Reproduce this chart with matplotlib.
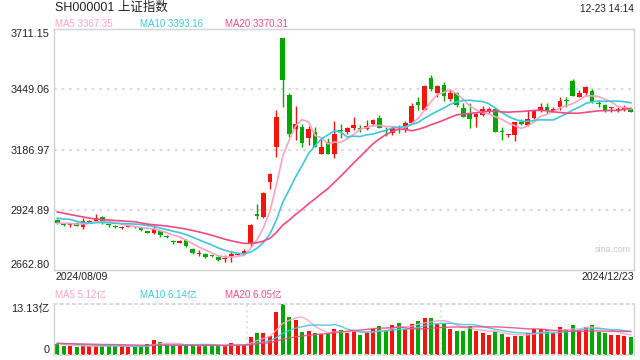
import numpy as np
import matplotlib
matplotlib.use("Agg")
import matplotlib.pyplot as plt

plt.rcParams['font.family'] = ['Liberation Sans', 'Noto Sans CJK SC', 'DejaVu Sans']

title = "SH000001 上证指数"
timestamp = "12-23 14:14"
start_label = "2024/08/09"
end_label = "2024/12/23"
price_ticks = [2662.80, 2924.89, 3186.97, 3449.06, 3711.15]
vol_max = 13.13
ma_price_labels = ["MA5 3367.35", "MA10 3393.16", "MA20 3370.31"]
ma_vol_labels = ["MA5 5.12亿", "MA10 6.14亿", "MA20 6.05亿"]

# closes before the visible window (for moving averages)
prior_closes = [2974.0, 2976.3, 2962.3, 2977.1, 2982.3, 2964.2, 2915.4, 2901.9, 2886.7, 2890.9,
                2891.9, 2879.3, 2938.8, 2932.4, 2905.3, 2860.7, 2867.3, 2869.9, 2869.8]
prior_volumes = [3.1, 2.9, 3.0, 3.3, 3.0, 2.9, 3.2, 2.8, 2.7, 2.9,
                 3.0, 2.8, 3.6, 3.1, 3.0, 3.3, 2.9, 2.8, 2.7]

opens = [2881, 2860, 2861, 2869, 2850, 2874, 2877, 2893, 2860, 2855,
         2848, 2852, 2852, 2847, 2829, 2822, 2834, 2810, 2787, 2783,
         2793, 2754, 2734, 2732, 2726, 2721, 2709, 2724, 2731, 2735,
         2776, 2903, 2895, 3047, 3197, 3672, 3424, 3277, 3286, 3238,
         3263, 3166, 3219, 3166, 3272, 3264, 3282, 3281, 3277, 3298,
         3323, 3271, 3260, 3274, 3276, 3303, 3395, 3359, 3497, 3431,
         3468, 3405, 3431, 3366, 3344, 3327, 3337, 3358, 3362, 3268,
         3253, 3250, 3305, 3293, 3323, 3359, 3370, 3358, 3370, 3401,
         3486, 3414, 3431, 3443, 3389, 3380, 3368, 3358, 3364, 3362]
highs = [2884, 2864, 2864, 2872, 2891, 2882, 2906, 2896, 2865, 2858,
         2856, 2860, 2854, 2849, 2833, 2855, 2838, 2815, 2792, 2794,
         2797, 2758, 2749, 2735, 2730, 2724, 2726, 2747, 2738, 2754,
         2863, 2950, 3000, 3086, 3359, 3674, 3434, 3376, 3296, 3290,
         3283, 3231, 3238, 3311, 3296, 3286, 3330, 3294, 3315, 3318,
         3338, 3285, 3286, 3295, 3310, 3388, 3417, 3467, 3509, 3467,
         3482, 3446, 3436, 3388, 3389, 3344, 3377, 3374, 3366, 3284,
         3256, 3308, 3318, 3360, 3360, 3388, 3388, 3374, 3416, 3416,
         3494, 3446, 3464, 3448, 3400, 3385, 3372, 3373, 3380, 3364]
lows = [2862, 2853, 2850, 2853, 2840, 2870, 2875, 2862, 2852, 2846,
        2843, 2849, 2845, 2833, 2822, 2818, 2808, 2800, 2778, 2779,
        2765, 2733, 2725, 2714, 2718, 2702, 2697, 2699, 2727, 2731,
        2762, 2885, 2890, 3016, 3154, 3371, 3240, 3228, 3196, 3205,
        3199, 3166, 3168, 3151, 3238, 3255, 3272, 3265, 3272, 3290,
        3280, 3245, 3250, 3257, 3265, 3297, 3359, 3359, 3441, 3417,
        3398, 3400, 3374, 3327, 3280, 3285, 3333, 3342, 3264, 3230,
        3240, 3224, 3294, 3290, 3320, 3348, 3345, 3348, 3359, 3374,
        3420, 3414, 3420, 3390, 3370, 3350, 3350, 3348, 3355, 3350]
closes = [2866, 2858, 2863, 2855, 2875, 2876, 2890, 2870, 2858, 2849,
          2850, 2854, 2850, 2837, 2827, 2840, 2814, 2808, 2785, 2786,
          2769, 2738, 2737, 2718, 2724, 2706, 2716, 2732, 2733, 2747,
          2858, 2901, 2996, 3080, 3327, 3489, 3254, 3298, 3217, 3276,
          3199, 3198, 3168, 3254, 3270, 3279, 3293, 3279, 3289, 3315,
          3282, 3269, 3279, 3272, 3303, 3376, 3381, 3463, 3450, 3463,
          3421, 3431, 3381, 3330, 3318, 3341, 3362, 3360, 3264, 3266,
          3255, 3308, 3300, 3318, 3356, 3373, 3356, 3360, 3399, 3399,
          3420, 3431, 3458, 3392, 3387, 3359, 3371, 3360, 3370, 3352]
volumes = [2.85, 2.33, 2.33, 2.07, 2.33, 2.33, 2.33, 2.33, 2.33, 2.33,
           2.33, 2.16, 2.16, 2.16, 2.85, 3.89, 3.37, 2.68, 2.33, 2.33,
           2.50, 2.50, 2.33, 2.50, 2.50, 2.33, 2.33, 3.02, 2.50, 2.50,
           4.75, 5.79, 5.79, 4.92, 10.97, 13.13, 9.76, 9.07, 6.05, 6.22,
           5.79, 5.36, 5.36, 6.74, 6.48, 5.79, 6.22, 5.18, 5.79, 6.65,
           7.34, 6.31, 7.77, 8.29, 6.65, 8.03, 8.81, 9.59, 9.59, 8.03,
           8.21, 6.74, 6.22, 6.22, 7.34, 6.22, 5.79, 5.18, 6.05, 5.44,
           4.75, 4.92, 4.92, 5.79, 6.65, 6.65, 6.31, 5.61, 7.08, 6.74,
           7.77, 6.48, 7.08, 7.77, 6.05, 5.79, 5.18, 5.18, 4.92, 4.75]

RED = '#f2150f'
GREEN = '#02a702'
C_MA5 = '#ffa3c2'
C_MA10 = '#3ec6df'
C_MA20 = '#ee4a84'
BORDER = '#d2d2d2'
GRID = '#dcdcdc'
TXT = '#222222'

o = np.array(opens, float); h = np.array(highs, float)
l = np.array(lows, float); c = np.array(closes, float)
v = np.array(volumes, float)
n = len(c)
x = np.arange(n)
up = c >= o
cols = [RED if u else GREEN for u in up]

def ma(prior, vals, k):
    full = np.concatenate([np.array(prior, float), vals])
    out = []
    for i in range(len(prior), len(full)):
        out.append(full[max(0, i - k + 1):i + 1].mean())
    return np.array(out)

fig = plt.figure(figsize=(6.4, 3.6), dpi=100)
fig.patch.set_facecolor('white')

L, W = 54 / 640, 580 / 640
ax = fig.add_axes([L, 1 - 270 / 360, W, 241 / 360])
axv = fig.add_axes([L, 1 - 355 / 360, W, 51 / 360])

# price panel
ymin, ymax = price_ticks[0], price_ticks[-1]
ax.set_xlim(-0.5, n - 0.5)
ax.set_ylim(ymin, ymax)
for t in price_ticks[1:-1]:
    ax.axhline(t, color=GRID, lw=1.6, ls=(0, (1.2, 2.2)), zorder=0)

ax.vlines(x, l, h, colors=cols, lw=1.0, zorder=2)
px_price = (ymax - ymin) / 241
body_h = np.maximum(np.abs(c - o), px_price * 1.1)
body_b = np.where(np.abs(c - o) < px_price * 1.1, (o + c) / 2 - px_price * 0.55, np.minimum(o, c))
ax.bar(x, body_h, bottom=body_b, width=0.72, color=cols, lw=0, zorder=3)

ma5 = ma(prior_closes, c, 5)
ma10 = ma(prior_closes, c, 10)
ma20 = ma(prior_closes, c, 20)
ax.plot(x, ma5, color=C_MA5, lw=1.2, zorder=4)
ax.plot(x, ma10, color=C_MA10, lw=1.2, zorder=4)
ax.plot(x, ma20, color=C_MA20, lw=1.2, zorder=4)

ax.set_yticks(price_ticks)
ax.set_yticklabels([f"{t:.2f}" for t in price_ticks], fontsize=7.8, color=TXT)
labs = ax.get_yticklabels()
labs[0].set_verticalalignment('bottom')
labs[-1].set_verticalalignment('top')
ax.tick_params(axis='y', length=0, pad=3)
ax.set_xticks([])
for s in ax.spines.values():
    s.set_color(BORDER); s.set_linewidth(1.0)
ax.text(0.995, 0.085, "sina.com", transform=ax.transAxes, ha='right', va='center',
        fontsize=6.5, color='#c8c8c8')

# volume panel
axv.set_xlim(-0.5, n - 0.5)
axv.set_ylim(0, vol_max)
axv.bar(x, v, width=0.62, color=cols, lw=0, zorder=2)
vm5 = ma(prior_volumes, v, 5)
vm10 = ma(prior_volumes, v, 10)
vm20 = ma(prior_volumes, v, 20)
axv.plot(x, vm5, color=C_MA5, lw=1.0, alpha=0.9, zorder=3)
axv.plot(x, vm10, color=C_MA10, lw=1.0, alpha=0.9, zorder=3)
axv.plot(x, vm20, color=C_MA20, lw=1.0, alpha=0.9, zorder=3)
for frac in (1 / 3, 2 / 3):
    axv.axvline(-0.5 + n * frac, color=GRID, lw=1.2, ls=(0, (1.2, 2.0)), zorder=1)
axv.set_yticks([0, vol_max])
axv.set_yticklabels(["0", "13.13亿"], fontsize=7.8, color=TXT)
vl = axv.get_yticklabels()
vl[0].set_verticalalignment('bottom')
vl[1].set_verticalalignment('top')
axv.tick_params(axis='y', length=0, pad=3)
axv.set_xticks([])
for k in ('left', 'right'):
    axv.spines[k].set_color(BORDER); axv.spines[k].set_linewidth(1.0)
for k in ('top', 'bottom'):
    axv.spines[k].set_color(GRID); axv.spines[k].set_linewidth(1.4)
    axv.spines[k].set_linestyle((0, (1.2, 2.0)))

# header texts
def fx(px):
    return px / 640
def fy(py):
    return 1 - py / 360

fig.text(fx(55), fy(8), title, fontsize=9, color=TXT, ha='left', va='center')
fig.text(fx(634), fy(9), timestamp, fontsize=7.2, color=TXT, ha='right', va='center')
for lab, xp, col in zip(ma_price_labels, (55, 140, 225), (C_MA5, C_MA10, C_MA20)):
    fig.text(fx(xp), fy(24), lab, fontsize=7, color=col, ha='left', va='center')
fig.text(fx(55), fy(277), start_label, fontsize=7.6, color=TXT, ha='left', va='center')
fig.text(fx(634), fy(277), end_label, fontsize=7.6, color=TXT, ha='right', va='center')
for lab, xp, col in zip(ma_vol_labels, (55, 140, 225), (C_MA5, C_MA10, C_MA20)):
    fig.text(fx(xp), fy(295), lab, fontsize=7, color=col, ha='left', va='center')

fig.savefig("out.png", dpi=100, facecolor='white')
